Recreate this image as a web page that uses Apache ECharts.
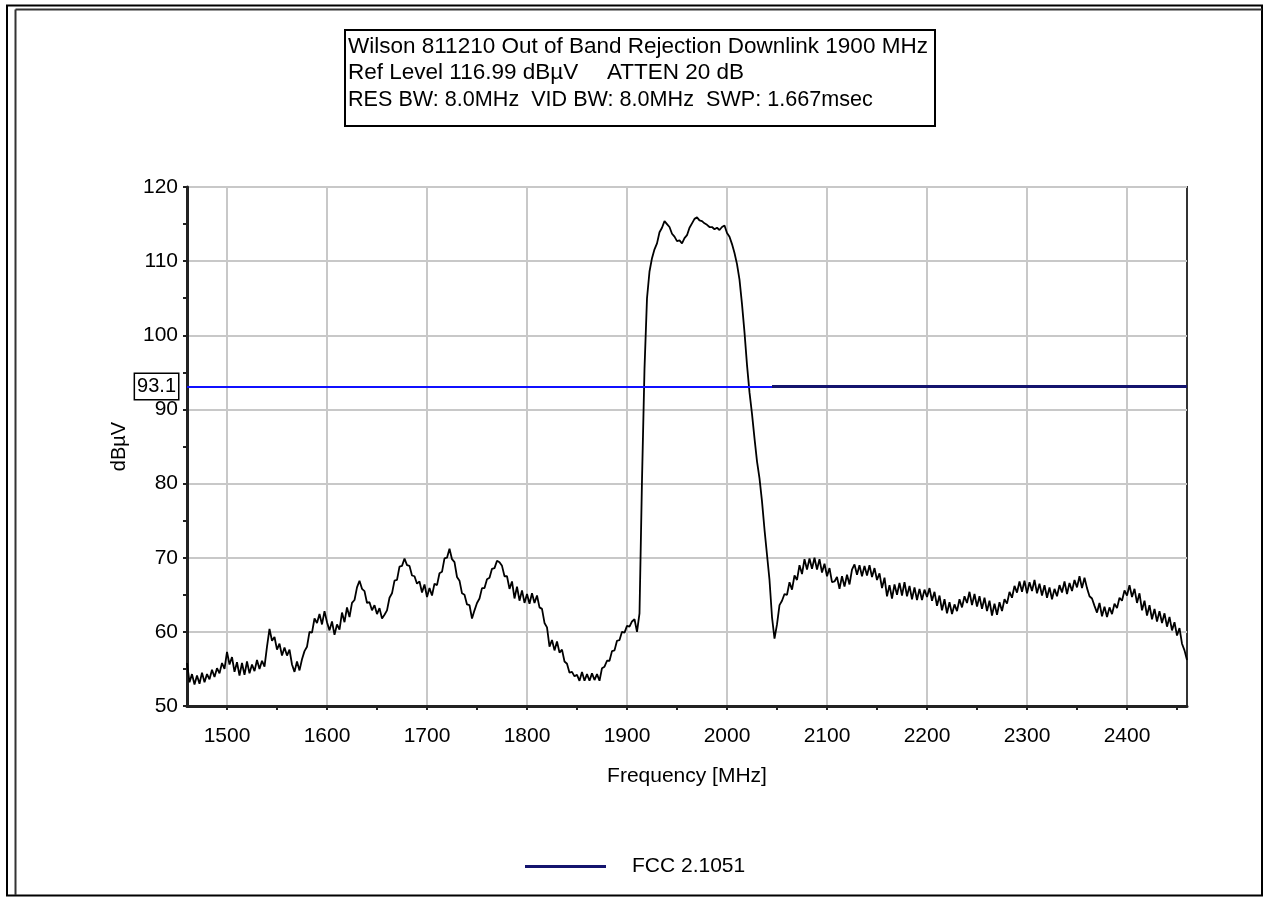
<!DOCTYPE html>
<html><head><meta charset="utf-8">
<script src="https://cdn.jsdelivr.net/npm/echarts@6/dist/echarts.min.js"></script>
<style>html,body{margin:0;padding:0;background:#fff}#c{width:1268px;height:901px}</style>
</head><body><div id="c"></div>
<script>
// ---- text ----
const titleLine1 = 'Wilson 811210 Out of Band Rejection Downlink 1900 MHz';
const titleLine2a = 'Ref Level 116.99 dB\u00b5V';
const titleLine2b = 'ATTEN 20 dB';
const titleLine3 = 'RES BW: 8.0MHz  VID BW: 8.0MHz  SWP: 1.667msec';
const xAxisName = 'Frequency [MHz]';
const yAxisName = 'dB\u00b5V';
const limitName = 'FCC 2.1051';

// ---- axes ----
const xMin = 1460, xMax = 2460;
const yMin = 50, yMax = 120, yInterval = 10;
const xLabelValues = [1500, 1600, 1700, 1800, 1900, 2000, 2100, 2200, 2300, 2400];
const xMinorTickValues = [1550, 1650, 1750, 1850, 1950, 2050, 2150, 2250, 2350, 2450];

// ---- limit line ----
const limitValue = 93.1;
const limitNavySpan = [2045, 2460];

// ---- measured trace (sweep 1460..2460 MHz, 2.5 MHz per point) ----
const sweepStart = 1460, sweepStep = 2.5;
const traceValues = [
  55.8,53.2,54.3,52.9,54.1,53.0,54.5,53.2,54.3,53.6,54.9,53.9,55.1,54.4,55.8,55.0,57.3,55.6,56.6,54.6,
  55.9,54.1,55.8,54.2,56.0,54.4,55.6,54.7,56.2,55.0,56.1,55.3,58.0,60.4,58.8,59.3,57.6,58.4,56.8,57.9,
  56.8,57.6,55.6,54.6,56.0,54.8,56.3,57.4,58.0,60.0,59.9,61.8,61.2,62.4,61.0,62.8,61.3,60.2,61.4,59.6,
  61.0,60.3,62.6,61.3,63.3,62.0,63.9,64.3,66.0,66.9,65.8,65.5,63.9,64.0,62.9,63.6,62.4,63.2,61.8,62.3,
  62.9,64.6,65.2,66.9,67.0,68.8,68.9,69.9,69.0,68.9,67.6,67.5,66.5,66.8,65.3,66.4,64.7,65.9,64.9,66.5,
  66.3,67.9,68.1,69.9,70.0,71.2,69.8,69.4,67.4,66.9,65.2,65.0,63.7,63.6,61.8,62.9,63.9,64.5,65.9,65.9,
  67.1,67.3,68.5,68.6,69.6,69.4,68.9,67.5,67.5,65.8,66.8,64.5,66.1,64.2,65.6,63.9,65.1,63.8,65.2,63.9,
  64.9,63.3,63.1,61.2,60.6,58.0,58.9,57.5,58.7,57.2,57.6,56.0,55.7,54.5,54.6,54.0,54.2,53.4,54.6,53.4,
  54.3,53.4,54.4,53.5,54.3,53.4,55.1,55.3,56.1,56.1,57.4,57.5,58.8,58.9,60.0,59.9,60.8,60.7,61.4,61.7,
  60.0,62.5,80.5,95.5,105.0,108.6,110.4,111.6,112.4,113.9,114.5,115.4,115.0,114.6,113.7,113.3,112.7,112.8,112.4,113.1,
  113.5,114.5,115.1,115.7,115.9,115.5,115.4,115.1,114.9,114.6,114.6,114.3,114.5,114.2,114.6,114.8,113.8,113.3,112.3,111.1,
  109.6,107.5,104.2,100.4,96.0,92.3,89.4,86.1,83.0,80.7,77.6,73.8,70.4,67.0,62.0,59.1,61.0,63.6,64.2,65.1,
  65.0,66.7,65.7,67.6,67.0,69.0,67.8,69.8,68.4,69.9,68.5,70.0,68.4,69.8,68.0,69.2,67.5,68.6,66.7,66.8,
  67.4,65.8,67.5,66.1,67.7,66.4,68.4,69.1,67.7,69.0,67.5,68.9,67.6,69.0,67.4,68.6,67.0,67.9,65.9,67.3,
  64.8,66.3,64.5,66.4,65.0,66.6,64.9,66.7,64.8,66.2,64.4,66.0,64.3,65.8,64.3,65.7,64.7,65.9,64.2,65.4,
  63.5,64.9,62.9,64.4,62.5,64.0,62.4,63.7,62.8,64.4,63.3,64.8,63.9,65.4,63.6,65.1,63.4,64.8,63.1,64.6,
  62.8,64.2,62.2,63.8,62.3,64.0,62.8,64.4,63.8,65.4,64.6,66.2,65.3,66.8,65.4,66.9,65.2,66.7,65.5,67.0,
  65.2,66.5,64.9,66.3,64.6,66.0,64.4,65.8,64.8,66.3,65.3,66.8,65.1,66.6,65.5,67.0,66.0,67.5,65.9,67.3,
  65.9,64.8,64.5,63.5,62.6,63.9,62.1,63.4,62.0,63.3,62.4,63.8,63.2,64.6,64.2,65.6,64.9,66.3,64.7,65.8,
  63.9,65.2,62.9,64.2,62.2,63.6,61.7,63.1,61.4,62.8,61.2,62.5,60.7,62.0,60.2,61.3,59.5,60.5,58.4,57.5,
  56.2
];

const FONT = '"Liberation Sans", Arial, sans-serif';
const traceData = traceValues.map((v, i) => [sweepStart + i * sweepStep, v]);

const chart = echarts.init(document.getElementById('c'), null, {renderer: 'canvas'});
chart.setOption({
  backgroundColor: '#ffffff',
  animation: false,
  textStyle: {fontFamily: FONT},
  grid: {left: 187, top: 187, width: 1000, height: 519, show: true, borderColor: '#333', borderWidth: 2, backgroundColor: '#fff', outerBoundsMode: 'none'},
  legend: {
    data: [limitName], left: 525, top: 856, padding: 0, icon: 'rect', itemWidth: 81, itemHeight: 3,
    textStyle: {fontSize: 21, color: '#000', fontFamily: FONT, padding: [0, 0, 0, 21]}
  },
  xAxis: [{
    type: 'value', min: xMin, max: xMax, position: 'bottom',
    axisLine: {show: true, onZero: false, lineStyle: {color: '#222', width: 3}},
    axisTick: {show: true, length: 4, customValues: xLabelValues, lineStyle: {color: '#222', width: 2}},
    axisLabel: {show: true, customValues: xLabelValues, formatter: v => String(v), fontSize: 21, color: '#000', margin: 20, fontFamily: FONT},
    splitLine: {show: true, lineStyle: {color: '#c8c8c8', width: 2}},
    name: xAxisName, nameLocation: 'middle', nameGap: 60,
    nameTextStyle: {fontSize: 21, color: '#000', fontFamily: FONT}
  }, {
    type: 'value', min: xMin, max: xMax, position: 'bottom',
    axisLine: {show: false, onZero: false},
    axisTick: {show: true, length: 4, customValues: xMinorTickValues, lineStyle: {color: '#222', width: 2}},
    axisLabel: {show: false},
    splitLine: {show: false}
  }],
  yAxis: {
    type: 'value', min: yMin, max: yMax, interval: yInterval,
    axisLine: {show: true, onZero: false, lineStyle: {color: '#222', width: 3}},
    axisTick: {show: true, length: 4, lineStyle: {color: '#222', width: 2}},
    minorTick: {show: true, splitNumber: 2, length: 4, lineStyle: {color: '#222', width: 2}},
    axisLabel: {fontSize: 21, color: '#000', margin: 9, fontFamily: FONT},
    splitLine: {show: true, lineStyle: {color: '#c8c8c8', width: 2}},
    name: yAxisName, nameLocation: 'middle', nameGap: 58,
    nameTextStyle: {fontSize: 20, color: '#000', fontFamily: FONT}
  },
  series: [{
    name: 'trace', type: 'line', data: traceData, showSymbol: false, symbol: 'none',
    lineStyle: {color: '#000', width: 1.8}, itemStyle: {color: '#000'}, z: 3, silent: true
  }, {
    name: 'limitBlue', type: 'line', data: [], symbol: 'none', z: 4, silent: true,
    itemStyle: {color: '#1010ff'},
    markLine: {
      silent: true, symbol: 'none', animation: false,
      lineStyle: {color: '#1010ff', width: 2.2, type: 'solid'},
      label: {
        show: true, position: 'start', formatter: String(limitValue), distance: 9,
        color: '#000', fontSize: 20, fontFamily: FONT, backgroundColor: '#fff',
        borderColor: '#000', borderWidth: 1.5, padding: [3, 2, 2, 2]
      },
      emphasis: {disabled: true},
      data: [{yAxis: limitValue}]
    }
  }, {
    name: limitName, type: 'line', symbol: 'none', z: 5, silent: true,
    data: [[limitNavySpan[0], limitValue], [limitNavySpan[1], limitValue]],
    lineStyle: {color: '#14146e', width: 3}, itemStyle: {color: '#14146e'}
  }],
  graphic: [
    {type: 'rect', shape: {x: 7, y: 5.5, width: 1255, height: 890}, style: {fill: null, stroke: '#000', lineWidth: 2}, silent: true},
    {type: 'line', shape: {x1: 15.5, y1: 9.5, x2: 15.5, y2: 895}, style: {stroke: '#333', lineWidth: 2}, silent: true},
    {type: 'line', shape: {x1: 15.5, y1: 9.5, x2: 1262, y2: 9.5}, style: {stroke: '#333', lineWidth: 2}, silent: true},
    {type: 'rect', shape: {x: 345, y: 30, width: 590, height: 96}, style: {fill: '#fff', stroke: '#000', lineWidth: 2}, silent: true},
    {type: 'text', x: 348, y: 47, style: {text: titleLine1, font: '22.5px ' + FONT, fill: '#000', textVerticalAlign: 'middle'}, silent: true},
    {type: 'text', x: 348, y: 73, style: {text: titleLine2a, font: '22.5px ' + FONT, fill: '#000', textVerticalAlign: 'middle'}, silent: true},
    {type: 'text', x: 607, y: 73, style: {text: titleLine2b, font: '22.5px ' + FONT, fill: '#000', textVerticalAlign: 'middle'}, silent: true},
    {type: 'text', x: 348, y: 100, style: {text: titleLine3, font: '21.6px ' + FONT, fill: '#000', textVerticalAlign: 'middle'}, silent: true}
  ]
});
</script></body></html>
